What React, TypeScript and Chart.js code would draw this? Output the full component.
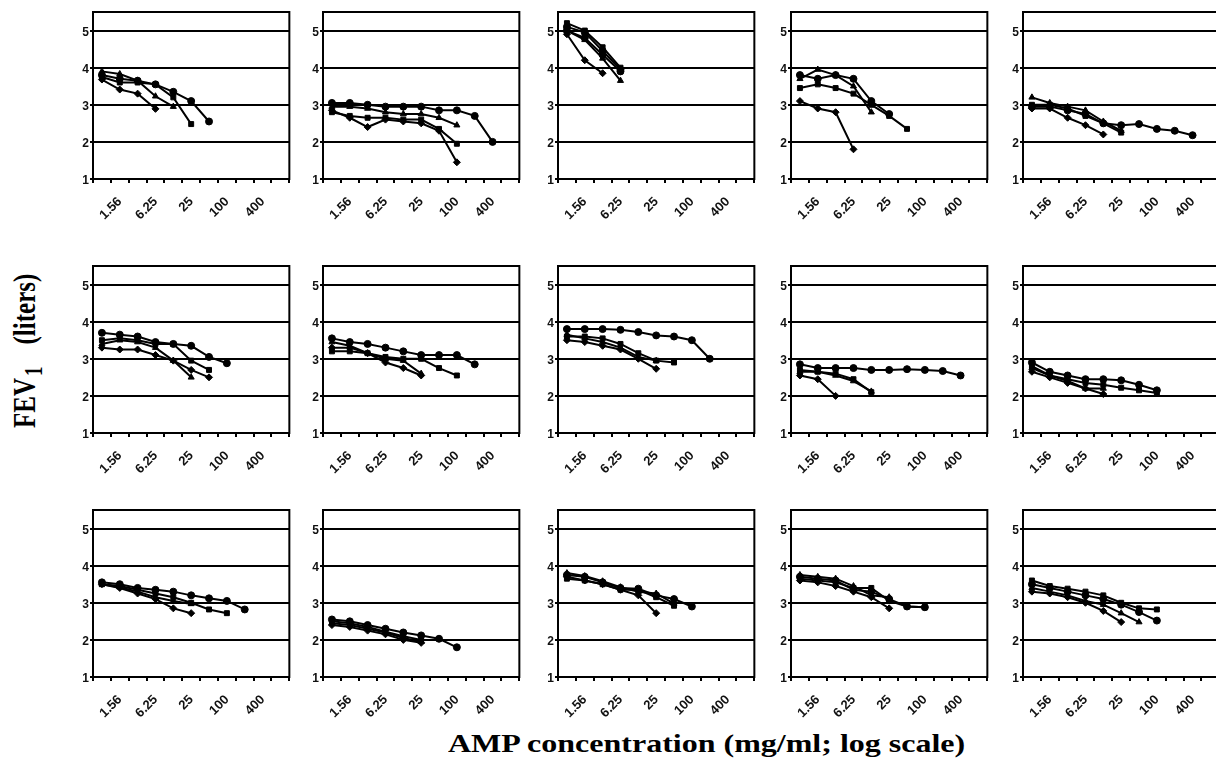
import React, { useEffect, useRef } from 'react';
import { Chart, registerables } from 'chart.js';

Chart.register(...registerables);

// ---------- data ----------
const categories = ['1.56', '3.13', '6.25', '12.5', '25', '50', '100', '200', '400', '800', '1600'];
const tickLabels = ['1.56', '', '6.25', '', '25', '', '100', '', '400', '', ''];
const yTicks = [1, 2, 3, 4, 5];
const markerStyles = ['circle', 'rect', 'triangle', 'rectRot', 'circle'];

// each panel: [circle, square, triangle, diamond, (extra)]
const panel1 = [
  [3.8, 3.7, 3.65, 3.55, 3.35, 3.1, 2.55],
  [3.75, 3.6, 3.6, 3.55, 3.2, 2.48],
  [3.9, 3.83, 3.65, 3.23, 2.95],
  [3.68, 3.41, 3.3, 2.89],
];
const panel2 = [
  [3.05, 3.05, 3.0, 2.95, 2.95, 2.95, 2.85, 2.85, 2.7, 2.0],
  [2.8, 2.7, 2.65, 2.65, 2.6, 2.6, 2.35, 1.95],
  [2.95, 2.95, 2.9, 2.8, 2.75, 2.75, 2.65, 2.45],
  [2.85, 2.65, 2.4, 2.6, 2.55, 2.5, 2.3, 1.45],
];
const panel3 = [
  [5.1, 4.95, 4.45, 3.95],
  [5.2, 5.0, 4.55, 4.0],
  [5.0, 4.75, 4.25, 3.65],
  [4.9, 4.2, 3.85],
  [5.0, 4.8, 4.35, 3.9],
];
const panel4 = [
  [3.8, 3.7, 3.8, 3.7, 3.1, 2.75],
  [3.45, 3.55, 3.45, 3.3, 3.0, 2.7, 2.35],
  [3.7, 3.95, 3.8, 3.5, 2.8],
  [3.1, 2.9, 2.8, 1.8],
];
const panel5 = [
  [2.95, 2.95, 2.85, 2.75, 2.5, 2.45, 2.48, 2.35, 2.3, 2.18],
  [3.0, 3.0, 2.9, 2.7, 2.5, 2.25],
  [3.2, 3.05, 2.95, 2.85, 2.55, 2.3],
  [2.9, 2.9, 2.65, 2.45, 2.2],
];
const panel6 = [
  [3.7, 3.65, 3.6, 3.45, 3.4, 3.35, 3.05, 2.88],
  [3.5, 3.55, 3.5, 3.4, 3.4, 2.95, 2.7],
  [3.4, 3.5, 3.45, 3.3, 2.95, 2.5],
  [3.3, 3.25, 3.25, 3.1, 2.95, 2.7, 2.5],
];
const panel7 = [
  [3.55, 3.45, 3.4, 3.3, 3.2, 3.1, 3.1, 3.1, 2.85],
  [3.2, 3.2, 3.15, 3.05, 3.0, 3.0, 2.75, 2.55],
  [3.45, 3.35, 3.15, 3.0, 2.95, 2.6],
  [3.3, 3.3, 3.15, 2.9, 2.75, 2.55],
];
const panel8 = [
  [3.8, 3.8, 3.8, 3.78, 3.72, 3.63, 3.6, 3.5, 3.0],
  [3.6, 3.6, 3.55, 3.4, 3.15, 2.95, 2.9],
  [3.65, 3.55, 3.45, 3.3, 3.05, 2.95],
  [3.5, 3.45, 3.35, 3.25, 3.0, 2.73],
];
const panel9 = [
  [2.85, 2.75, 2.75, 2.75, 2.7, 2.7, 2.72, 2.7, 2.67, 2.55],
  [2.7, 2.65, 2.6, 2.45, 2.1],
  [2.65, 2.65, 2.55, 2.4, 2.12],
  [2.55, 2.45, 2.0],
];
const panel10 = [
  [2.9, 2.65, 2.55, 2.45, 2.45, 2.42, 2.3, 2.15],
  [2.8, 2.55, 2.45, 2.35, 2.3, 2.22, 2.15, 2.08],
  [2.75, 2.55, 2.4, 2.2, 2.2],
  [2.65, 2.5, 2.35, 2.2, 2.05],
];
const panel11 = [
  [3.55, 3.5, 3.4, 3.35, 3.3, 3.2, 3.12, 3.05, 2.82],
  [3.5, 3.45, 3.35, 3.25, 3.15, 3.0, 2.82, 2.72],
  [3.5, 3.42, 3.3, 3.15, 3.05, 2.97],
  [3.5, 3.4, 3.25, 3.1, 2.85, 2.72],
];
const panel12 = [
  [2.55, 2.5, 2.4, 2.3, 2.2, 2.12, 2.03, 1.8],
  [2.5, 2.45, 2.35, 2.22, 2.1, 2.0],
  [2.45, 2.4, 2.3, 2.2, 2.05, 1.95],
  [2.4, 2.35, 2.25, 2.15, 2.0, 1.92],
];
const panel13 = [
  [3.75, 3.7, 3.55, 3.4, 3.38, 3.2, 3.1, 2.9],
  [3.65, 3.6, 3.5, 3.35, 3.35, 3.15, 2.92],
  [3.8, 3.72, 3.58, 3.42, 3.3, 3.25, 2.98],
  [3.7, 3.6, 3.5, 3.35, 3.2, 2.72],
];
const panel14 = [
  [3.7, 3.65, 3.6, 3.35, 3.3, 3.1, 2.9, 2.88],
  [3.65, 3.6, 3.55, 3.4, 3.4, 3.05, 2.9, 2.88],
  [3.75, 3.7, 3.65, 3.45, 3.2, 3.15],
  [3.6, 3.55, 3.45, 3.3, 3.15, 2.85],
];
const panel15 = [
  [3.5, 3.4, 3.3, 3.2, 3.1, 2.95, 2.75, 2.52],
  [3.6, 3.45, 3.38, 3.3, 3.2, 3.0, 2.85, 2.82],
  [3.4, 3.3, 3.2, 3.05, 2.95, 2.72, 2.48],
  [3.3, 3.25, 3.15, 3.0, 2.78, 2.48],
];

const panels = [
  panel1, panel2, panel3, panel4, panel5,
  panel6, panel7, panel8, panel9, panel10,
  panel11, panel12, panel13, panel14, panel15,
];

const yTitle = 'FEV';
const yTitleSub = '1';
const yTitleUnit = '(liters)';
const xTitle = 'AMP concentration (mg/ml; log scale)';

// ---------- layout ----------
const COL_LEFT = [93, 323, 558, 791, 1023];
const ROW_TOP = [12, 266, 510];
const PLOT_W = 198;
const PLOT_H = 167;
const YW = 34;
const PR = 12;
const PT = 10;
const XH = 50;
const CW = YW + PLOT_W + PR;
const CH = PT + PLOT_H + XH;
const SANS = '"Liberation Sans", Arial, sans-serif';
const SERIF = '"Liberation Serif", "Times New Roman", serif';

const boxPlugin = {
  id: 'panelBox',
  beforeDatasetsDraw(chart: any) {
    const { ctx, chartArea: a } = chart;
    ctx.save();
    ctx.strokeStyle = '#000';
    ctx.lineWidth = 2;
    ctx.strokeRect(a.left, a.top, a.right - a.left, a.bottom - a.top);
    ctx.restore();
  },
};

function Panel({ series, left, top }: { series: number[][]; left: number; top: number }) {
  const ref = useRef<HTMLCanvasElement>(null);
  useEffect(() => {
    const chart = new Chart(ref.current as HTMLCanvasElement, {
      type: 'line',
      data: {
        labels: categories,
        datasets: series.map((d, i) => ({
          data: d,
          borderColor: '#000',
          backgroundColor: '#000',
          borderWidth: 2,
          pointStyle: markerStyles[i] as any,
          pointRadius: 3.5,
          pointBorderWidth: 1,
          pointBackgroundColor: '#000',
          pointBorderColor: '#000',
          tension: 0,
          fill: false,
        })),
      },
      options: {
        responsive: false,
        animation: false,
        devicePixelRatio: 1,
        events: [],
        layout: { padding: { top: PT, right: PR, left: 0, bottom: 0 } },
        plugins: { legend: { display: false }, tooltip: { enabled: false } },
        scales: {
          x: {
            type: 'category',
            offset: true,
            grid: {
              display: true,
              drawOnChartArea: false,
              drawTicks: true,
              tickLength: 4,
              offset: true,
              color: '#000',
              lineWidth: 2,
            },
            border: { display: true, color: '#000', width: 2 },
            ticks: {
              autoSkip: false,
              minRotation: 45,
              maxRotation: 45,
              labelOffset: 18,
              padding: 11,
              color: '#111',
              font: { family: SANS, size: 13, weight: 'bold' },
              callback: (_v: any, i: number) => tickLabels[i],
            },
            afterFit: (s: any) => {
              s.height = XH;
            },
          },
          y: {
            type: 'linear',
            min: 1,
            max: 5.5,
            afterBuildTicks: (s: any) => {
              s.ticks = yTicks.map((v) => ({ value: v }));
            },
            grid: { color: '#000', lineWidth: 2, tickLength: 3, drawTicks: true },
            border: { display: true, color: '#000', width: 2 },
            ticks: {
              padding: 1,
              labelOffset: 2,
              color: '#111',
              font: { family: SANS, size: 12, weight: 'bold' },
            },
            afterFit: (s: any) => {
              s.width = YW;
            },
          },
        },
      } as any,
      plugins: [boxPlugin],
    });
    return () => chart.destroy();
  }, [series]);
  return (
    <canvas
      ref={ref}
      width={CW}
      height={CH}
      style={{ position: 'absolute', left: left - YW, top: top - PT, width: CW, height: CH }}
    />
  );
}

export default function App() {
  return (
    <div
      style={{
        position: 'fixed',
        left: 0,
        top: 0,
        width: 1216,
        height: 759,
        overflow: 'hidden',
        background: '#fff',
      }}
    >
      {panels.map((p, i) => (
        <Panel key={i} series={p} left={COL_LEFT[i % 5]} top={ROW_TOP[Math.floor(i / 5)]} />
      ))}
      <div
        style={{
          position: 'absolute',
          left: 8,
          top: 428,
          transformOrigin: '0 0',
          transform: 'rotate(-90deg) scaleY(1.3)',
          fontFamily: SERIF,
          fontWeight: 'bold',
          fontSize: 25,
          lineHeight: '25px',
          whiteSpace: 'nowrap',
          color: '#000',
        }}
      >
        <span>{yTitle}</span>
        <span style={{ fontSize: 19, position: 'relative', top: 5, marginLeft: 2 }}>{yTitleSub}</span>
        <span style={{ marginLeft: 22 }}>{yTitleUnit}</span>
      </div>
      <div
        style={{
          position: 'absolute',
          left: 448,
          top: 731,
          transformOrigin: '0 0',
          transform: 'scaleX(1.28)',
          fontFamily: SERIF,
          fontWeight: 'bold',
          fontSize: 25,
          lineHeight: '25px',
          whiteSpace: 'nowrap',
          color: '#000',
        }}
      >
        {xTitle}
      </div>
    </div>
  );
}
